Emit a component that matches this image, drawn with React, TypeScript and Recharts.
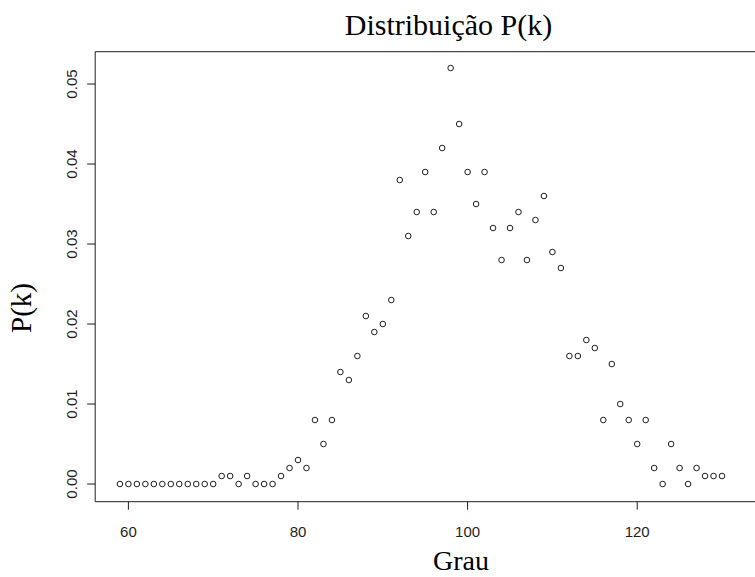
import React from 'react';
import { ScatterChart, Scatter, XAxis, YAxis, ReferenceLine } from 'recharts';

// Degree k (Grau)
const degrees = [
  59, 60, 61, 62, 63, 64, 65, 66, 67, 68, 69, 70,
  71, 72, 73, 74, 75, 76, 77, 78, 79, 80,
  81, 82, 83, 84, 85, 86, 87, 88, 89, 90,
  91, 92, 93, 94, 95, 96, 97, 98, 99, 100,
  101, 102, 103, 104, 105, 106, 107, 108, 109, 110,
  111, 112, 113, 114, 115, 116, 117, 118, 119, 120,
  121, 122, 123, 124, 125, 126, 127, 128, 129, 130,
];

// P(k)
const probabilities = [
  0, 0, 0, 0, 0, 0, 0, 0, 0, 0, 0, 0,
  0.001, 0.001, 0, 0.001, 0, 0, 0, 0.001, 0.002, 0.003,
  0.002, 0.008, 0.005, 0.008, 0.014, 0.013, 0.016, 0.021, 0.019, 0.02,
  0.023, 0.038, 0.031, 0.034, 0.039, 0.034, 0.042, 0.052, 0.045, 0.039,
  0.035, 0.039, 0.032, 0.028, 0.032, 0.034, 0.028, 0.033, 0.036, 0.029,
  0.027, 0.016, 0.016, 0.018, 0.017, 0.008, 0.015, 0.01, 0.008, 0.005,
  0.008, 0.002, 0, 0.005, 0.002, 0, 0.002, 0.001, 0.001, 0.001,
];

const xTicks = [60, 80, 100, 120];
const yTicks = [0, 0.01, 0.02, 0.03, 0.04, 0.05];
const xTickLabels = ['60', '80', '100', '120'];
const yTickLabels = ['0.00', '0.01', '0.02', '0.03', '0.04', '0.05'];

const titleText = 'Distribuição P(k)';
const xAxisTitle = 'Grau';
const yAxisTitle = 'P(k)';

const xDomain: [number, number] = [56.085, 133.89];
const yDomain: [number, number] = [-0.00221, 0.05404];

const data = degrees.map((k, i) => ({ k, p: probabilities[i] }));

const SANS = '"Liberation Sans", Arial, sans-serif';
const SERIF = '"Liberation Serif", "Times New Roman", serif';
const INK = '#1e1e1e';

const XTick = (props: any) => {
  const { x, y, payload } = props;
  const idx = xTicks.indexOf(payload.value);
  return (
    <text x={x} y={y} dy={11} textAnchor="middle" fontSize={15} fontFamily={SANS} fill={INK}>
      {idx >= 0 ? xTickLabels[idx] : String(payload.value)}
    </text>
  );
};

const YTick = (props: any) => {
  const { x, y, payload } = props;
  const idx = yTicks.indexOf(payload.value);
  return (
    <text
      x={x}
      y={y}
      transform={`rotate(-90, ${x}, ${y})`}
      textAnchor="middle"
      fontSize={15}
      fontFamily={SANS}
      fill={INK}
    >
      {idx >= 0 ? yTickLabels[idx] : String(payload.value)}
    </text>
  );
};

const OpenCircle = (props: any) => {
  const { cx, cy } = props;
  if (cx == null || cy == null) return null;
  return <circle cx={cx} cy={cy} r={2.8} fill="none" stroke={INK} strokeWidth={1} />;
};

export default function App() {
  return (
    <div style={{ position: 'absolute', left: 0, top: 0, width: 755, height: 577, background: '#fff' }}>
      <ScatterChart
        width={755}
        height={577}
        margin={{ top: 51.7, right: 0, bottom: 0, left: 0 }}
      >
        <XAxis
          type="number"
          dataKey="k"
          domain={xDomain}
          allowDataOverflow
          ticks={xTicks}
          height={75.3}
          tickSize={8}
          tickMargin={16}
          tick={<XTick />}
          axisLine={{ stroke: INK, strokeWidth: 1 }}
          tickLine={{ stroke: INK, strokeWidth: 1 }}
        />
        <YAxis
          type="number"
          dataKey="p"
          domain={yDomain}
          allowDataOverflow
          ticks={yTicks}
          width={95.2}
          tickSize={8}
          tickMargin={10}
          tick={<YTick />}
          axisLine={{ stroke: INK, strokeWidth: 1 }}
          tickLine={{ stroke: INK, strokeWidth: 1 }}
        />
        <ReferenceLine y={yDomain[1]} stroke={INK} strokeWidth={1} />
        <Scatter data={data} shape={<OpenCircle />} isAnimationActive={false} />
      </ScatterChart>
      <svg
        width={755}
        height={577}
        style={{ position: 'absolute', left: 0, top: 0, pointerEvents: 'none' }}
      >
        <text x={448.5} y={35} textAnchor="middle" fontSize={30} fontFamily={SERIF} fill="#000">
          {titleText}
        </text>
        <text x={461} y={570} textAnchor="middle" fontSize={28} fontFamily={SERIF} fill="#000">
          {xAxisTitle}
        </text>
        <text
          x={31}
          y={308}
          transform="rotate(-90, 31, 308)"
          textAnchor="middle"
          fontSize={29}
          fontFamily={SERIF}
          fill="#000"
        >
          {yAxisTitle}
        </text>
      </svg>
    </div>
  );
}
